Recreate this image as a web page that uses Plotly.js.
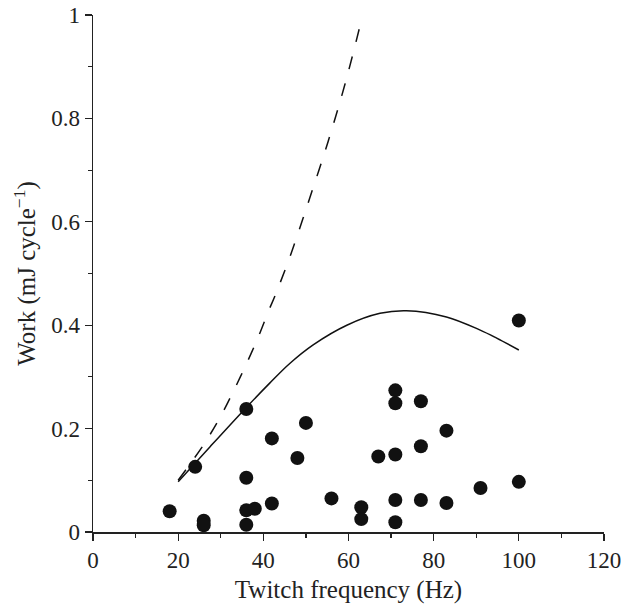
<!DOCTYPE html>
<html>
<head>
<meta charset="utf-8">
<script src="https://cdn.plot.ly/plotly-3.0.1.min.js"></script>
<style>html,body{margin:0;padding:0;background:#fff;}#chart{width:634px;height:604px;}</style>
</head>
<body>
<div id="chart"></div>
<script>
// Measured points
const freqHz = [18, 24, 26, 26, 36, 36, 36, 36, 38, 42, 42, 48, 50, 56, 63, 63, 67, 71, 71, 71, 71, 71, 77, 77, 77, 83, 83, 91, 100, 100];
const workMJ = [0.040, 0.126, 0.022, 0.013, 0.238, 0.105, 0.042, 0.014, 0.045, 0.181, 0.055, 0.143, 0.211, 0.065, 0.048, 0.025, 0.146, 0.274, 0.249, 0.150, 0.062, 0.019, 0.253, 0.166, 0.062, 0.196, 0.056, 0.085, 0.409, 0.097];

// Dashed curve
const dashX = [20, 25.9, 29.8, 32.9, 35.9, 38.7, 41.3, 42.7, 46.4, 50.9, 55.2, 59.2, 62.7];
const dashY = [0.100, 0.168, 0.221, 0.271, 0.323, 0.375, 0.429, 0.456, 0.536, 0.646, 0.755, 0.867, 0.979];

// Solid curve
const solidX = [20, 27.5, 35.9, 41.5, 46.2, 51.7, 59.6, 67.4, 73.6, 83.0, 90.8, 94.8, 100];
const solidY = [0.097, 0.165, 0.240, 0.288, 0.326, 0.362, 0.400, 0.423, 0.428, 0.416, 0.391, 0.375, 0.352];

const xTickVals = [0, 20, 40, 60, 80, 100, 120];
const xTickText = ['0', '20', '40', '60', '80', '100', '120'];
const yTickVals = [0, 0.2, 0.4, 0.6, 0.8, 1];
const yTickText = ['0', '0.2', '0.4', '0.6', '0.8', '1'];

const FONT = 'Liberation Serif, Times New Roman, serif';

const traces = [
  {x: dashX, y: dashY, mode: 'lines', type: 'scatter', line: {color: '#111', width: 1.5, dash: '13px,15px', shape: 'spline'}, hoverinfo: 'skip'},
  {x: solidX, y: solidY, mode: 'lines', type: 'scatter', line: {color: '#111', width: 1.5, shape: 'spline'}, hoverinfo: 'skip'},
  {x: freqHz, y: workMJ, mode: 'markers', type: 'scatter', marker: {color: '#111', size: 14}, cliponaxis: false}
];

const layout = {
  width: 634, height: 604,
  margin: {l: 93, r: 30, t: 15, b: 72},
  paper_bgcolor: '#fff', plot_bgcolor: '#fff',
  showlegend: false,
  font: {family: FONT, size: 23, color: '#222'},
  xaxis: {
    range: [0, 120], showgrid: false, zeroline: false,
    showline: true, linecolor: '#222', linewidth: 1.5,
    ticks: 'outside', ticklen: 7, tickwidth: 1.2, tickcolor: '#222',
    tickvals: xTickVals, ticktext: xTickText,
    tickfont: {family: FONT, size: 23, color: '#222'},
    minor: {ticks: 'outside', ticklen: 4, tickwidth: 1.2, tickcolor: '#222', dtick: 10, showgrid: false},
    title: {text: 'Twitch frequency (Hz)', font: {family: FONT, size: 25, color: '#222'}, standoff: 8},
    fixedrange: true
  },
  yaxis: {
    range: [0, 1], showgrid: false, zeroline: false,
    showline: true, linecolor: '#222', linewidth: 1.5,
    ticks: 'outside', ticklen: 7, tickwidth: 1.2, tickcolor: '#222',
    tickvals: yTickVals, ticktext: yTickText,
    tickfont: {family: FONT, size: 23, color: '#222'},
    minor: {ticks: 'outside', ticklen: 4, tickwidth: 1.2, tickcolor: '#222', dtick: 0.1, showgrid: false},
    title: {text: 'Work (mJ cycle<sup>−1</sup>)', font: {family: FONT, size: 25, color: '#222'}, standoff: 8},
    fixedrange: true
  }
};

Plotly.newPlot('chart', traces, layout, {displayModeBar: false, staticPlot: true});
</script>
</body>
</html>
